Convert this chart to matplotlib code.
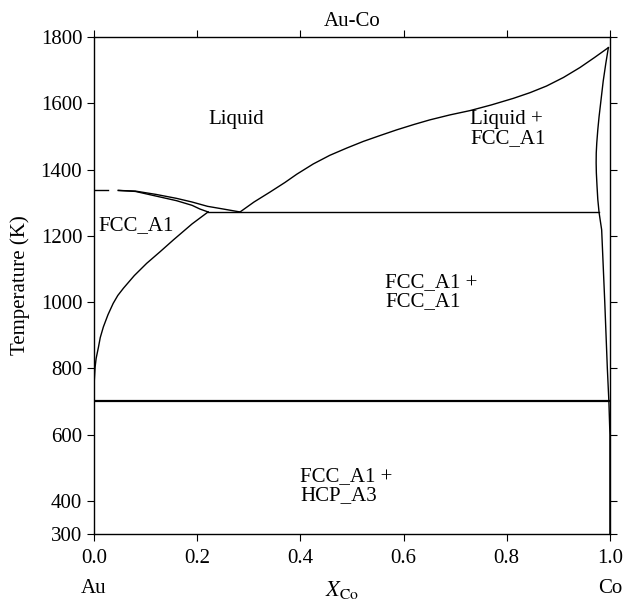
import matplotlib
matplotlib.use("Agg")
import matplotlib.pyplot as plt

plt.rcParams['font.family'] = ['Liberation Serif', 'DejaVu Serif']
plt.rcParams['mathtext.fontset'] = 'stix'

# линии фазовой диаграммы Au-Co (X_Co, T в K)
au_melt_x = [0.0, 0.027]
au_melt_t = [1337, 1337]

liq_left_x = [0.047, 0.08, 0.12, 0.16, 0.19, 0.22, 0.25, 0.283]
liq_left_t = [1337, 1335, 1325, 1313, 1302, 1289, 1281, 1272]

sol_left_x = [0.047, 0.08, 0.12, 0.16, 0.19, 0.205, 0.221]
sol_left_t = [1337, 1334, 1320, 1306, 1292, 1281, 1272]

solvus_left_x = [0.221, 0.19, 0.154, 0.128, 0.102, 0.078, 0.057, 0.046, 0.037, 0.027,
                 0.018, 0.012, 0.0085, 0.004, 0.002, 0.0005, 0.0, 0.0]
solvus_left_t = [1272, 1236, 1188, 1152, 1117, 1080, 1042, 1020, 996, 962,
                 925, 893, 864, 830, 804, 765, 733, 700]

liq_right_x = [0.283, 0.31, 0.341, 0.37, 0.393, 0.425, 0.457, 0.49, 0.522, 0.555, 0.587,
               0.62, 0.651, 0.69, 0.729, 0.77, 0.813, 0.845, 0.877, 0.91, 0.942, 0.97, 0.997]
liq_right_t = [1272, 1302, 1332, 1361, 1386, 1417, 1443, 1465, 1485, 1503, 1520,
               1536, 1550, 1565, 1578, 1595, 1615, 1632, 1652, 1678, 1708, 1738, 1768]

sol_right_x = [0.997, 0.992, 0.987, 0.982, 0.979, 0.9765, 0.9745, 0.9735, 0.9733, 0.9737,
               0.975, 0.9765, 0.979, 0.984, 0.990, 0.995, 0.998, 1.0, 1.0]
sol_right_t = [1768, 1720, 1667, 1600, 1560, 1520, 1480, 1450, 1420, 1390,
               1350, 1310, 1270, 1218, 1000, 800, 700, 600, 300]

eutectic_x = [0.221, 0.979]
eutectic_t = [1272, 1272]

eutectoid_x = [0.0, 1.0]
eutectoid_t = [700, 700]

x_ticks = [0.0, 0.2, 0.4, 0.6, 0.8, 1.0]
y_ticks = [300, 400, 600, 800, 1000, 1200, 1400, 1600, 1800]

fs = 15

fig = plt.figure(figsize=(6.23, 6.03), dpi=100)
ax = fig.add_axes([0.151, 0.1144, 0.828, 0.8242])

lw = 1.0
for xs, ts in [(au_melt_x, au_melt_t), (liq_left_x, liq_left_t), (sol_left_x, sol_left_t),
               (solvus_left_x, solvus_left_t), (liq_right_x, liq_right_t),
               (sol_right_x, sol_right_t), (eutectic_x, eutectic_t)]:
    ax.plot(xs, ts, color='black', lw=lw, solid_joinstyle='round')
ax.plot(eutectoid_x, eutectoid_t, color='black', lw=1.6)

ax.set_xlim(0, 1)
ax.set_ylim(300, 1800)
ax.set_xticks(x_ticks)
ax.set_xticklabels([f'{v:.1f}' for v in x_ticks])
ax.set_yticks(y_ticks)
ax.tick_params(direction='out', top=True, right=True, labelsize=fs, length=5)
ax.tick_params(axis='x', pad=6)
for s in ax.spines.values():
    s.set_linewidth(1.0)

ax.set_ylabel('Temperature (K)', fontsize=fs, labelpad=8)
ax.set_title('Au-Co', fontsize=fs, pad=8)

# подписи областей
ax.text(0.221, 1550, 'Liquid', fontsize=fs, va='center')
ax.text(0.729, 1523, 'Liquid +\nFCC_A1', fontsize=fs, va='center', linespacing=1.0)
ax.text(0.008, 1230, 'FCC_A1', fontsize=fs, va='center')
ax.text(0.564, 1031, 'FCC_A1 +\nFCC_A1', fontsize=fs, va='center', linespacing=1.0)
ax.text(0.399, 445, 'FCC_A1 +\nHCP_A3', fontsize=fs, va='center', linespacing=1.0)

# подписи компонентов под осью
ax.text(0.0, -0.109, 'Au', fontsize=fs, ha='center', va='center', transform=ax.transAxes)
ax.text(1.0, -0.109, 'Co', fontsize=fs, ha='center', va='center', transform=ax.transAxes)
ax.text(0.48, -0.112, r'$X_{\mathrm{Co}}$', fontsize=fs + 1, ha='center', va='center',
        transform=ax.transAxes)

fig.savefig('out.png', dpi=100)
